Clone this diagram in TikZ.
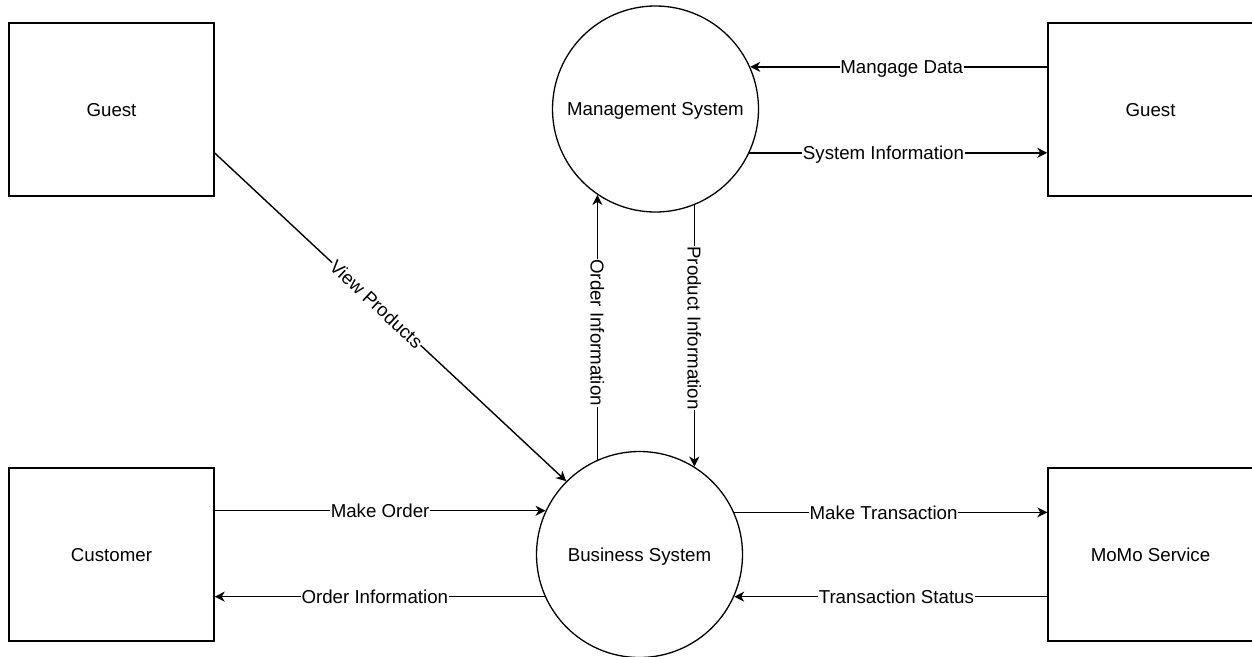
\documentclass[tikz,border=0pt]{standalone}
\usepackage{fontspec}
\setmainfont{Liberation Sans}
\usetikzlibrary{arrows.meta,calc}

\tikzset{
  txt/.style={font=\fontsize{18.7}{22}\selectfont, text height=13.4pt, text depth=0pt},
  entity/.style={txt, draw=black, line width=1.4pt, minimum width=205pt, minimum height=173pt,
                 inner sep=0pt},
  process/.style={txt, draw=black, line width=1.3pt, circle, minimum size=206pt,
                  inner sep=0pt},
  flow/.style={draw=black, line width=1.4pt,
               -{Stealth[length=10pt,width=10pt,inset=3pt]}},
  lab/.style={txt, fill=white, inner sep=0.8pt}
}

\begin{document}
\begin{tikzpicture}[x=1pt,y=-1pt]
  \useasboundingbox (0,0) rectangle (1252,656);

  % external entities
  \node[entity] (guestL)   at (111.5,109.5)  {Guest};
  \node[entity] (customer) at (111.5,554.5)  {Customer};
  \node[entity] (guestR)   at (1150.5,109.5) {Guest};
  \node[entity] (momo)     at (1150.5,554.5) {MoMo Service};

  % processes
  \node[process] (mgmt) at (655.5,109)  {Management System};
  \node[process] (biz)  at (639.5,554.5) {Business System};

  % flows around the management system
  \draw[flow] (mgmt.24 -| guestR.west) -- node[lab, pos=0.49] {Mangage Data} (mgmt.24);
  \draw[flow] (mgmt.-25.3) -- node[lab, pos=0.45] {System Information} (mgmt.-25.3 -| guestR.west);

  % guest browsing
  \draw[flow] ([yshift=-43.5pt]guestL.east) -- node[lab, sloped, pos=0.46] {View Products} (biz.135);

  % flows between the two processes
  \draw[flow] (biz.114.5) -- node[lab, rotate=-90, pos=0.48] {Order Information} (biz.114.5 |- mgmt.-124.6);
  \draw[flow] (mgmt.-68.65) -- node[lab, rotate=-90, pos=0.47] {Product Information} (mgmt.-68.65 |- biz.58.54);

  % customer flows
  \draw[flow] (biz.155.5 -| customer.east) -- node[lab, pos=0.5] {Make Order} (biz.155.5);
  \draw[flow] (biz.204.5) -- node[lab, pos=0.515] {Order Information} (biz.204.5 -| customer.east);

  % payment service flows
  \draw[flow] (biz.24.5) -- node[lab, pos=0.477] {Make Transaction} (biz.24.5 -| momo.west);
  \draw[flow] (biz.-24.5 -| momo.west) -- node[lab, pos=0.482] {Transaction Status} (biz.-24.5);
\end{tikzpicture}
\end{document}
